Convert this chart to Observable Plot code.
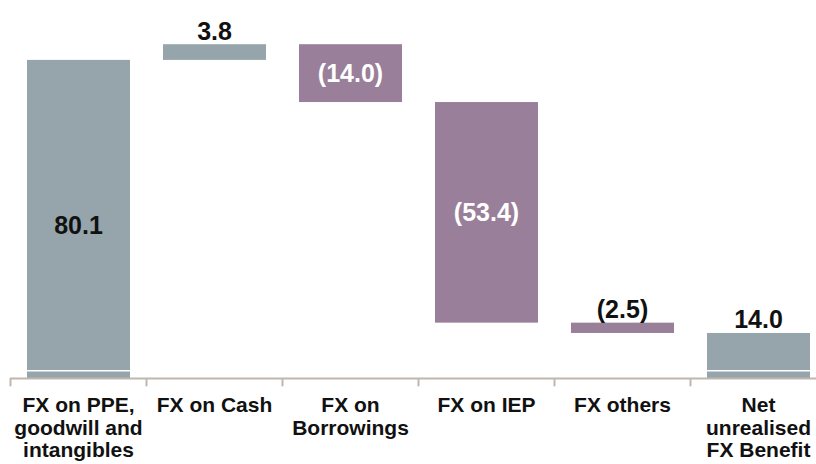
<!DOCTYPE html>
<html>
<head>
<meta charset="utf-8">
<script src="https://cdn.jsdelivr.net/npm/d3@7"></script>
<script src="https://cdn.jsdelivr.net/npm/@observablehq/plot@0.6"></script>
<style>
  html, body { margin: 0; padding: 0; background: #ffffff; }
  #chart { width: 816px; height: 464px; overflow: hidden; }
</style>
</head>
<body>
<div id="chart"></div>
<script>
// ---- data ----
const categories = [
  "FX on PPE,\ngoodwill and\nintangibles",
  "FX on Cash",
  "FX on\nBorrowings",
  "FX on IEP",
  "FX others",
  "Net\nunrealised\nFX Benefit"
];
const changes = [80.1, 3.8, -14.0, -53.4, -2.5, 14.0];
const isTotal = [false, false, false, false, false, true];
const valueLabels = ["80.1", "3.8", "(14.0)", "(53.4)", "(2.5)", "14.0"];
const labelInside = [true, false, true, true, false, false];

// ---- waterfall table ----
let run = 0;
const rows = categories.map((c, i) => {
  let start, end;
  if (isTotal[i]) { start = 0; end = changes[i]; run = end; }
  else { start = run; end = run + changes[i]; run = end; }
  return {
    cat: c, start, end,
    top: Math.max(start, end),
    mid: (start + end) / 2,
    neg: changes[i] < 0,
    label: valueLabels[i],
    inside: labelInside[i]
  };
});

const W = 816, H = 464;
const xRange = [10, 826];
const half = (xRange[1] - xRange[0]) / categories.length / 2;
const yMin = 3.1, yMax = 94.6;
const grey = "#95a5ab", purple = "#9a7f9a";

const chart = Plot.plot({
  width: W,
  height: H,
  marginTop: 0,
  marginBottom: 86,
  marginLeft: 10,
  marginRight: 0,
  style: { fontFamily: "'Liberation Sans', Arial, sans-serif", background: "#ffffff" },
  x: { type: "band", domain: categories, range: xRange, padding: 0, axis: null, label: null },
  y: { domain: [yMin, yMax], axis: null },
  marks: [
    Plot.barY(rows, {
      x: "cat", y1: "start", y2: "end",
      fill: d => d.neg ? purple : grey,
      insetLeft: 17, insetRight: 16, clip: true
    }),
    Plot.ruleY([5], { stroke: "#ffffff", strokeWidth: 1.5 }),
    Plot.ruleY([yMin], { stroke: "#bfb6ad", strokeWidth: 2 }),
    Plot.ruleX(categories, {
      x: d => d, y1: yMin, y2: yMin - 2, dx: -half,
      stroke: "#bfb6ad", strokeWidth: 2
    }),
    Plot.text(rows.filter(d => d.inside), {
      x: "cat", y: "mid", text: "label",
      fill: d => d.neg ? "#ffffff" : "#111111",
      fontSize: 25, fontWeight: "bold"
    }),
    Plot.text(rows.filter(d => !d.inside), {
      x: "cat", y: "top", text: "label",
      fill: "#111111", lineAnchor: "bottom", dy: -5,
      fontSize: 25, fontWeight: "bold"
    }),
    Plot.axisX({
      label: null,
      tickSize: 0, tickPadding: 18,
      fontSize: 21, fontWeight: "bold", lineHeight: 1.07,
      color: "#111111"
    })
  ]
});
document.getElementById("chart").appendChild(chart);
</script>
</body>
</html>
